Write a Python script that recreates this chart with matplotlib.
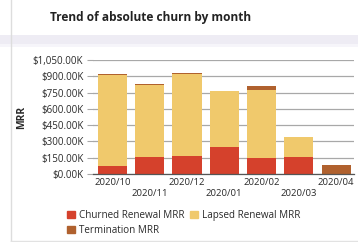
import matplotlib
matplotlib.use("Agg")
from matplotlib import pyplot as plt
from matplotlib.patches import Rectangle, Patch

plt.rcParams['font.family'] = ['Open Sans', 'DejaVu Sans']

months = ['2020/10', '2020/11', '2020/12', '2020/01', '2020/02', '2020/03', '2020/04']
churned = [73, 159, 168, 245, 144, 156, 0]
lapsed = [840, 664, 753, 523, 634, 187, 0]
termination = [10, 7, 7, 0, 30, 0, 80]
yticks = [0, 150, 300, 450, 600, 750, 900, 1050]

red = '#D5412C'
yellow = '#F0C96C'
brown = '#B0612E'
txt = '#2A2A2A'

fig = plt.figure(figsize=(3.58, 2.42), dpi=100)

# card decorations
fig.patches.append(Rectangle((0, 1 - 44 / 242), 1, 9 / 242, transform=fig.transFigure,
                             facecolor='#EEECF4', edgecolor='none', zorder=0))
fig.patches.append(Rectangle((0, 1 - 47 / 242), 1, 3 / 242, transform=fig.transFigure,
                             facecolor='#F6F5FA', edgecolor='none', zorder=0))
fig.add_artist(plt.Line2D([11 / 358, 11 / 358], [0, 1], transform=fig.transFigure,
                          color='#DDDDDD', lw=1))
fig.add_artist(plt.Line2D([11 / 358, 1], [1 / 242, 1 / 242], transform=fig.transFigure,
                          color='#E2E2E2', lw=1))

ax = fig.add_axes([93 / 358, 1 - 174 / 242, 261 / 358, 114 / 242])
x = range(len(months))
w = 0.78
ax.bar(x, churned, w, color=red, zorder=2)
bottom2 = [c for c in churned]
ax.bar(x, lapsed, w, bottom=bottom2, color=yellow, zorder=2)
bottom3 = [c + l for c, l in zip(churned, lapsed)]
ax.bar(x, termination, w, bottom=bottom3, color=brown, zorder=2)

ax.set_xlim(-0.52, 6.48)
ax.set_ylim(0, 1050)
ax.set_yticks(yticks)
ax.set_yticklabels(['${:,.2f}K'.format(v) for v in yticks], fontsize=7, color=txt)
ax.yaxis.grid(True, color='#A8A8A8', lw=0.9, zorder=0)
ax.tick_params(axis='y', length=4, color='#A8A8A8', pad=3)

labels = [m if i % 2 == 0 else '\n' + m for i, m in enumerate(months)]
ax.set_xticks(list(x))
ax.set_xticklabels(labels, fontsize=6.8, color=txt, linespacing=1.2)
ax.tick_params(axis='x', length=0, pad=3)

for s in ['top', 'right', 'left']:
    ax.spines[s].set_visible(False)
ax.spines['bottom'].set_color('#555555')
ax.spines['bottom'].set_linewidth(0.9)

ax.set_ylabel('MRR', fontsize=7.5, fontweight='bold', color=txt)
ax.yaxis.set_label_coords(-66 / 261, 0.5)

fig.text(50 / 358, 1 - 18 / 242, 'Trend of absolute churn by month', fontsize=8.6,
         fontweight='bold', color='#222222', va='center', ha='left')

handles = [Patch(color=red, label='Churned Renewal MRR'),
           Patch(color=brown, label='Termination MRR'),
           Patch(color=yellow, label='Lapsed Renewal MRR')]
fig.legend(handles=handles, ncol=2, loc='upper left', bbox_to_anchor=(60 / 358, 1 - 203 / 242),
           frameon=False, handlelength=0.8, handleheight=0.8,
           handletextpad=0.45, columnspacing=0.55, labelspacing=0.4, borderpad=0.2,
           labelcolor=txt, prop={'size': 7.1})

fig.savefig('out.png', dpi=100)
